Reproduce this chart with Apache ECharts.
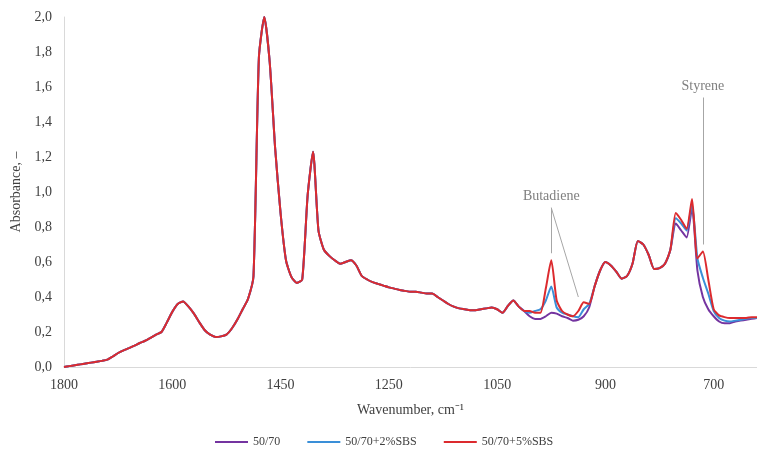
<!DOCTYPE html>
<html>
<head>
<meta charset="utf-8">
<script src="https://cdn.jsdelivr.net/npm/echarts@6/dist/echarts.min.js"></script>
<style>
  html, body { margin: 0; padding: 0; background: #fff; }
  #chart { width: 757px; height: 457px; }
</style>
</head>
<body>
<div id="chart"></div>
<script>
// wavenumbers, cm-1 (category axis, a label every 20 points like the Excel original)
var wavenumbers = [
  1800, 1790, 1780, 1770, 1760, 1750, 1740, 1730, 1720, 1710,
  1700, 1690, 1680, 1670, 1660, 1650, 1640, 1630, 1620, 1610,
  1600, 1592.5, 1585, 1577.5, 1570, 1562.5, 1555, 1547.5, 1540, 1532.5,
  1525, 1517.5, 1510, 1502.5, 1495, 1487.5, 1480, 1472.5, 1465, 1457.5,
  1450, 1440, 1430, 1420, 1410, 1400, 1390, 1380, 1370, 1360,
  1350, 1340, 1330, 1320, 1310, 1300, 1290, 1280, 1270, 1260,
  1250, 1240, 1230, 1220, 1210, 1200, 1190, 1180, 1170, 1160,
  1150, 1140, 1130, 1120, 1110, 1100, 1090, 1080, 1070, 1060,
  1050, 1042.5, 1035, 1027.5, 1020, 1012.5, 1005, 997.5, 990, 982.5,
  975, 967.5, 960, 952.5, 945, 937.5, 930, 922.5, 915, 907.5,
  900, 890, 880, 870, 860, 850, 840, 830, 820, 810,
  800, 790, 780, 770, 760, 750, 740, 730, 720, 710,
  700, 690, 680, 670, 660, 650, 640, 630, 620
];

// same for all three samples, 1800 .. ~1030
var headShared = [
  0.0, 0.005, 0.01, 0.015, 0.02, 0.025, 0.03, 0.035, 0.042, 0.06,
  0.08, 0.095, 0.108, 0.122, 0.137, 0.15, 0.167, 0.185, 0.20, 0.255,
  0.315, 0.36, 0.375, 0.345, 0.305, 0.255, 0.21, 0.185, 0.172, 0.175,
  0.185, 0.22, 0.27, 0.33, 0.39, 0.52, 1.77, 2.0, 1.74, 1.25,
  0.88, 0.61, 0.515, 0.48, 0.50, 0.98, 1.23, 0.78, 0.67, 0.635,
  0.61, 0.59, 0.60, 0.61, 0.58, 0.52, 0.50, 0.485, 0.475, 0.465,
  0.455, 0.448, 0.44, 0.435, 0.43, 0.43, 0.425, 0.42, 0.42, 0.40,
  0.38, 0.36, 0.345, 0.335, 0.33, 0.325, 0.325, 0.33, 0.335, 0.34,
  0.33, 0.31, 0.35, 0.38, 0.345, 0.32
];

// butadiene band region
var butaBase = [0.29, 0.275, 0.275, 0.29, 0.31, 0.305, 0.29, 0.28, 0.265, 0.27, 0.29, 0.34];
var buta2 = [0.31, 0.32, 0.33, 0.38, 0.46, 0.34, 0.31, 0.30, 0.29, 0.285, 0.33, 0.36];
var buta5 = [0.32, 0.31, 0.31, 0.45, 0.61, 0.38, 0.32, 0.30, 0.29, 0.32, 0.37, 0.36];

var midShared = [0.46, 0.55, 0.60, 0.58, 0.545, 0.505, 0.52, 0.59, 0.72, 0.70, 0.64, 0.56, 0.565, 0.59, 0.67];

// styrene band region, to the end
var tailBase = [0.82, 0.78, 0.74, 0.91, 0.55, 0.40, 0.33, 0.29, 0.26, 0.25, 0.25, 0.26, 0.265, 0.27, 0.275, 0.28];
var tail2 = [0.85, 0.82, 0.78, 0.93, 0.62, 0.51, 0.42, 0.32, 0.28, 0.265, 0.26, 0.265, 0.27, 0.275, 0.28, 0.28];
var tail5 = [0.88, 0.84, 0.79, 0.96, 0.62, 0.66, 0.50, 0.33, 0.295, 0.285, 0.28, 0.28, 0.28, 0.28, 0.285, 0.285];

var names = ['50/70', '50/70+2%SBS', '50/70+5%SBS'];
var colors = ['#7434a0', '#3a8fd8', '#dc2a2e'];

var s0 = headShared.concat(butaBase, midShared, tailBase);
var s2 = headShared.concat(buta2, midShared, tail2);
var s5 = headShared.concat(buta5, midShared, tail5);

var font = 'Liberation Serif';
var chart = echarts.init(document.getElementById('chart'));

function mkSeries(name, data, color, extra) {
    var s = {
        name: name,
        type: 'line',
        data: data,
        symbol: 'none',
        smooth: 0.2,
        lineStyle: { width: 2, color: color },
        itemStyle: { color: color }
    };
    return Object.assign(s, extra || {});
}

var annoLine = { color: '#a6a6a6', width: 1, type: 'solid' };

chart.setOption({
    animation: false,
    color: colors,
    grid: { left: 64, right: 0, top: 17, bottom: 90 },
    legend: {
        data: names,
        left: 210,
        top: 431,
        icon: 'rect',
        itemWidth: 33,
        itemHeight: 2,
        itemGap: 27,
        textStyle: { fontFamily: font, fontSize: 12, color: '#404040' }
    },
    xAxis: {
        type: 'category',
        data: wavenumbers,
        boundaryGap: false,
        name: 'Wavenumber, cm\u207B\u00B9',
        nameLocation: 'middle',
        nameGap: 36,
        nameTextStyle: { fontFamily: font, fontSize: 14, color: '#404040' },
        axisLine: { lineStyle: { color: '#d9d9d9', width: 1 } },
        axisTick: { show: false },
        axisLabel: {
            interval: 19,
            margin: 11,
            fontFamily: font,
            fontSize: 14,
            color: '#404040'
        },
        splitLine: { show: false }
    },
    yAxis: {
        type: 'value',
        min: 0,
        max: 2,
        interval: 0.2,
        name: 'Absorbance, \u2013',
        nameLocation: 'middle',
        nameGap: 38,
        nameTextStyle: { fontFamily: font, fontSize: 14, color: '#404040' },
        axisLine: { show: true, lineStyle: { color: '#d9d9d9', width: 1 } },
        axisTick: { show: false },
        axisLabel: {
            margin: 12,
            fontFamily: font,
            fontSize: 14,
            color: '#404040',
            formatter: function (v) { return v.toFixed(1).replace('.', ','); }
        },
        splitLine: { show: false }
    },
    series: [
        mkSeries(names[0], s0, colors[0]),
        mkSeries(names[1], s2, colors[1]),
        mkSeries(names[2], s5, colors[2], {
            markLine: {
                silent: true,
                symbol: ['none', 'none'],
                lineStyle: annoLine,
                label: {
                    show: true,
                    position: 'start',
                    distance: 4,
                    fontFamily: font,
                    fontSize: 14,
                    color: '#7f7f7f'
                },
                data: [
                    [{ coord: [90, 0.91], label: { formatter: 'Butadiene' } }, { coord: [90, 0.65] }],
                    [{ coord: [90, 0.91], label: { show: false } }, { coord: [95, 0.40] }],
                    [{ coord: [118, 1.54], label: { formatter: 'Styrene' } }, { coord: [118, 0.70] }]
                ]
            }
        })
    ]
});
</script>
</body>
</html>
